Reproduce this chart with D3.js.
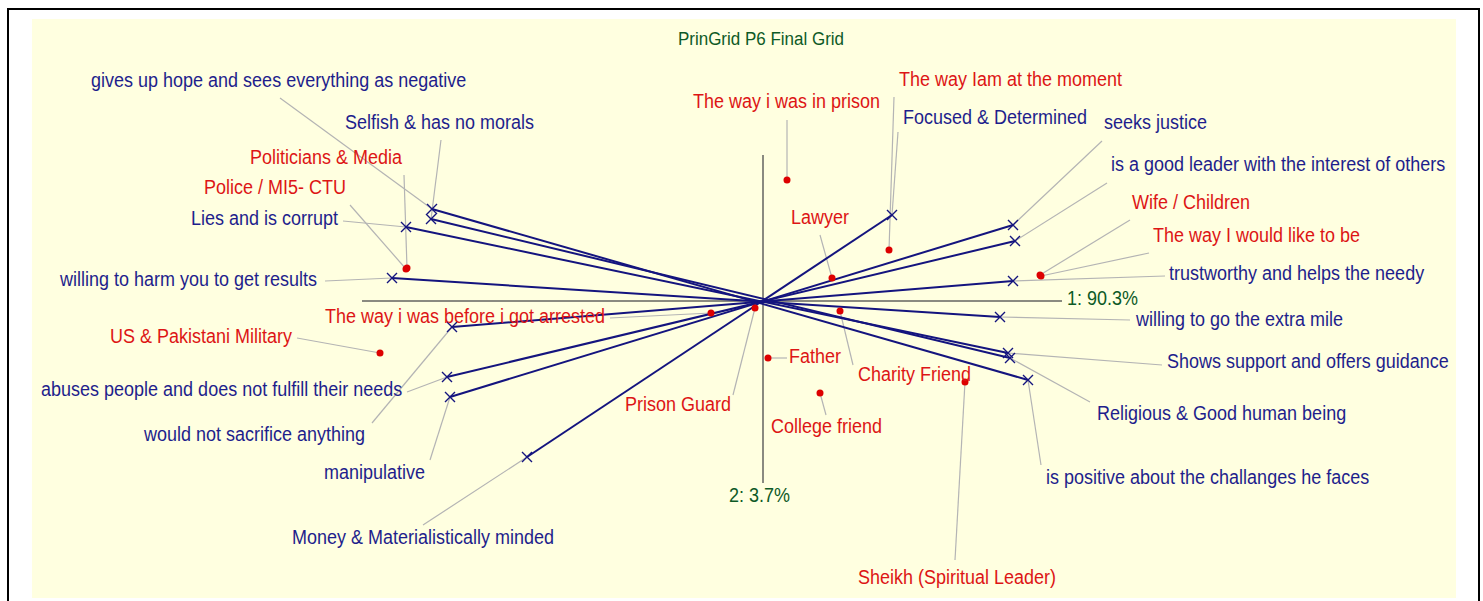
<!DOCTYPE html>
<html>
<head>
<meta charset="utf-8">
<script src="https://cdn.jsdelivr.net/npm/d3@7"></script>
<style>
  html, body { margin: 0; padding: 0; background: #ffffff; }
  svg { display: block; }
  text { font-family: "Liberation Sans", Arial, sans-serif; }
</style>
</head>
<body>
<svg id="chart" width="1483" height="601"></svg>
<script>
// ---------------- DATA ----------------
const chartTitle = "PrinGrid P6 Final Grid";
const axisLabels = ["1: 90.3%", "2: 3.7%"];
// principal component extents shown on the axes
const axis1Extent = [-4.01, 2.99];
const axis2Extent = [-1.82, 1.46];

// elements (red dots): name, component 1, component 2
const elementNames = [
  "The way i was in prison", "The way Iam at the moment", "Lawyer",
  "Politicians & Media", "Police / MI5- CTU", "Wife / Children",
  "The way I would like to be", "The way i was before i got arrested",
  "Prison Guard", "US & Pakistani Military", "Father", "Charity Friend",
  "College friend", "Sheikh (Spiritual Leader)"
];
const elementPC1 = [0.24, 1.26, 0.69, -3.56, -3.57, 2.77, 2.78, -0.52, -0.08, -3.83, 0.05, 0.77, 0.57, 2.02];
const elementPC2 = [1.21, 0.51, 0.23, 0.33, 0.32, 0.26, 0.25, -0.12, -0.07, -0.52, -0.57, -0.10, -0.92, -0.81];

// constructs (blue lines): left pole / right pole with their component scores
const leftPoles = [
  "gives up hope and sees everything as negative", "Selfish & has no morals",
  "Lies and is corrupt", "willing to harm you to get results",
  "would not sacrifice anything", "abuses people and does not fulfill their needs",
  "manipulative", "Money & Materialistically minded"
];
const rightPoles = [
  "is positive about the challanges he faces", "Religious & Good human being",
  "Shows support and offers guidance", "willing to go the extra mile",
  "trustworthy and helps the needy", "is a good leader with the interest of others",
  "seeks justice", "Focused & Determined"
];
const leftPC1 = [-3.31, -3.32, -3.57, -3.71, -3.11, -3.16, -3.13, -2.36];
const leftPC2 = [0.92, 0.82, 0.74, 0.23, -0.26, -0.76, -0.96, -1.56];
const rightPC1 = [2.65, 2.47, 2.45, 2.37, 2.50, 2.52, 2.50, 1.29];
const rightPC2 = [-0.79, -0.57, -0.52, -0.16, 0.20, 0.60, 0.76, 0.86];

// ---------------- LAYOUT (label placement, pixels) ----------------
// [textX, textCenterY, leaderEndX, leaderEndY]
const labelLayout = {
  "gives up hope and sees everything as negative": [91, 80, 280, 98],
  "Selfish & has no morals": [345, 122, 441, 140],
  "Lies and is corrupt": [191, 218, 343, 221],
  "willing to harm you to get results": [60, 279, 325, 281],
  "would not sacrifice anything": [144, 434, 372, 423],
  "abuses people and does not fulfill their needs": [41, 389, 407, 392],
  "manipulative": [324, 472, 430, 460],
  "Money & Materialistically minded": [292, 537, 423, 525],
  "is positive about the challanges he faces": [1046, 477, 1041, 465],
  "Religious & Good human being": [1097, 413, 1090, 402],
  "Shows support and offers guidance": [1167, 361, 1162, 365],
  "willing to go the extra mile": [1136, 319, 1130, 320],
  "trustworthy and helps the needy": [1169, 273, 1165, 276],
  "is a good leader with the interest of others": [1111, 164, 1107, 183],
  "seeks justice": [1104, 122, 1102, 141],
  "Focused & Determined": [903, 117, 898, 132],
  "The way i was in prison": [693, 101, 787, 120],
  "The way Iam at the moment": [899, 79, 894, 97],
  "Lawyer": [791, 217, 820, 235],
  "Politicians & Media": [250, 157, 404, 175],
  "Police / MI5- CTU": [204, 187, 350, 205],
  "Wife / Children": [1132, 202, 1130, 220],
  "The way I would like to be": [1153, 235, 1149, 253],
  "The way i was before i got arrested": [325, 316, 610, 318],
  "Prison Guard": [625, 404, 733, 395],
  "US & Pakistani Military": [110, 336, 297, 338],
  "Father": [789, 356, 787, 358],
  "Charity Friend": [858, 374, 853, 365],
  "College friend": [771, 426, 826, 415],
  "Sheikh (Spiritual Leader)": [858, 577, 955, 560]
};

// ---------------- DRAW ----------------
const svg = d3.select("#chart");
const FONT = 18;
const SX = 1.0, SY = 1.12, DY = 1.5;
const blue = "#1e1e8c", red = "#dd1515", green = "#0d5a26", lineBlue = "#14147e";

svg.append("rect").attr("x", 8).attr("y", 9).attr("width", 1471).attr("height", 610)
  .attr("fill", "#ffffff").attr("stroke", "#000").attr("stroke-width", 2);
svg.append("rect").attr("x", 32).attr("y", 19).attr("width", 1424).attr("height", 579)
  .attr("fill", "#ffffe0");

const x = d3.scaleLinear().domain(axis1Extent).range([362, 1062]);
const y = d3.scaleLinear().domain(axis2Extent).range([483, 155]);

function putText(g, tx, ty, str, color, size, anchor) {
  return g.append("text")
    .attr("transform", `translate(${tx},${ty + DY}) scale(${SX},${SY})`)
    .attr("text-anchor", anchor || "start")
    .attr("dominant-baseline", "middle")
    .attr("fill", color).attr("font-size", size).text(str);
}

// axes
svg.append("line").attr("x1", x(axis1Extent[0])).attr("x2", x(axis1Extent[1]))
  .attr("y1", y(0)).attr("y2", y(0)).attr("stroke", "#8a8a80").attr("stroke-width", 2);
svg.append("line").attr("x1", x(0)).attr("x2", x(0))
  .attr("y1", y(axis2Extent[1])).attr("y2", y(axis2Extent[0])).attr("stroke", "#8a8a80").attr("stroke-width", 2);

putText(svg, x(axis1Extent[1]) + 5, y(0) - 3, axisLabels[0], green, FONT);
putText(svg, x(0) - 34, y(axis2Extent[0]) + 12, axisLabels[1], green, FONT);
putText(svg, 761, 38, chartTitle, green, 17, "middle");

// build records
const constructs = leftPoles.map((n, i) => ({
  left: n, right: rightPoles[i],
  lx: leftPC1[i], ly: leftPC2[i], rx: rightPC1[i], ry: rightPC2[i]
}));
const elements = elementNames.map((n, i) => ({ name: n, px: elementPC1[i], py: elementPC2[i] }));

// leader lines
const leaders = [];
constructs.forEach(c => {
  leaders.push({ name: c.left, mx: x(c.lx), my: y(c.ly) });
  leaders.push({ name: c.right, mx: x(c.rx), my: y(c.ry) });
});
elements.forEach(e => leaders.push({ name: e.name, mx: x(e.px), my: y(e.py) }));

svg.append("g").selectAll("line").data(leaders).join("line")
  .attr("x1", d => d.mx).attr("y1", d => d.my)
  .attr("x2", d => labelLayout[d.name][2]).attr("y2", d => labelLayout[d.name][3])
  .attr("stroke", "#b4b4b4").attr("stroke-width", 1.2);

// construct lines
svg.append("g").selectAll("line").data(constructs).join("line")
  .attr("x1", d => x(d.lx)).attr("y1", d => y(d.ly))
  .attr("x2", d => x(d.rx)).attr("y2", d => y(d.ry))
  .attr("stroke", lineBlue).attr("stroke-width", 2);

// x markers
const markerPts = [];
constructs.forEach(c => { markerPts.push([x(c.lx), y(c.ly)]); markerPts.push([x(c.rx), y(c.ry)]); });
svg.append("g").selectAll("path").data(markerPts).join("path")
  .attr("d", d => `M${d[0]-5},${d[1]-5}L${d[0]+5},${d[1]+5}M${d[0]-5},${d[1]+5}L${d[0]+5},${d[1]-5}`)
  .attr("stroke", lineBlue).attr("stroke-width", 1.4).attr("fill", "none");

// element dots
svg.append("g").selectAll("circle").data(elements).join("circle")
  .attr("cx", d => x(d.px)).attr("cy", d => y(d.py)).attr("r", 3.5).attr("fill", "#dd0000");

// labels
const lg = svg.append("g");
constructs.forEach(c => {
  [c.left, c.right].forEach(n => putText(lg, labelLayout[n][0], labelLayout[n][1], n, blue, FONT));
});
elements.forEach(e => putText(lg, labelLayout[e.name][0], labelLayout[e.name][1], e.name, red, FONT));
</script>
</body>
</html>
